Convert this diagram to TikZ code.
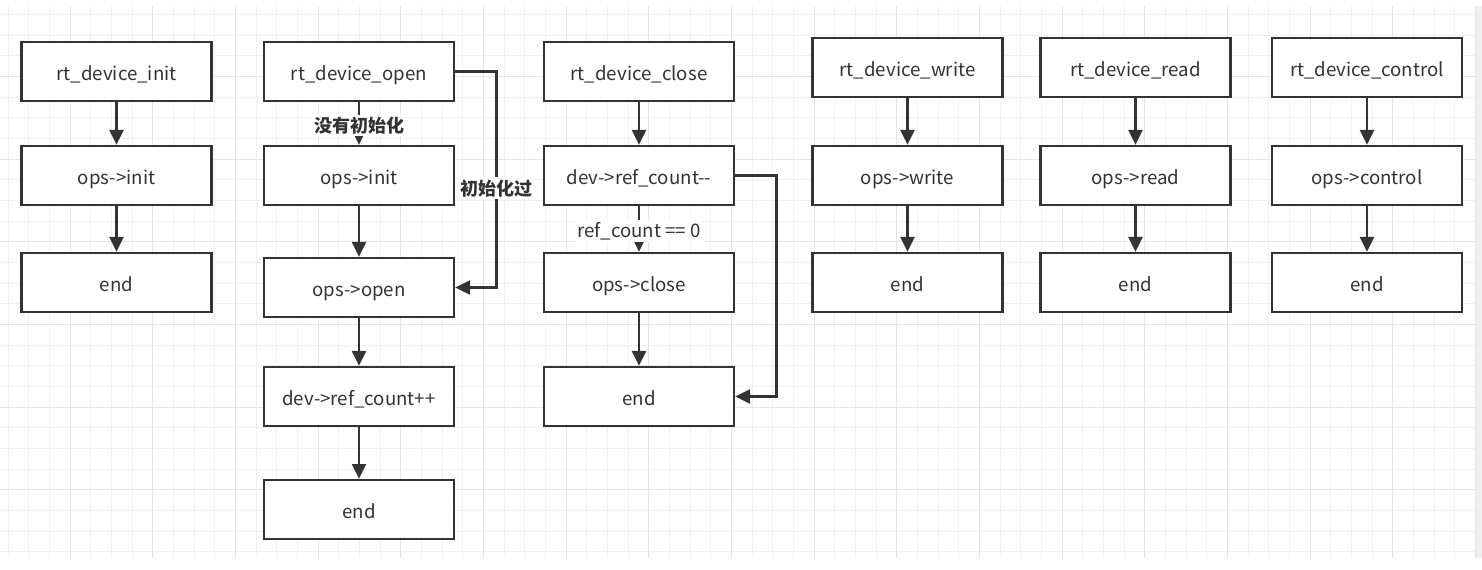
\documentclass[tikz,border=0pt]{standalone}
\usepackage{fontspec}
\setmainfont{Noto Sans CJK SC}
\usepackage{tikz}
\usetikzlibrary{positioning, arrows.meta}
\definecolor{linegray}{HTML}{333333}
\definecolor{gridminor}{HTML}{F1F1F1}
\definecolor{gridmajor}{HTML}{E5E5E5}

\begin{document}
\begin{tikzpicture}[x=0.75pt, y=-0.75pt, ->, >={Triangle[width=10.5pt, length=11pt]}, node distance=80pt]
    \tikzstyle{every node}=[font=\fontsize{14pt}{16pt}\selectfont, text=linegray]
    \tikzstyle{block}=[draw=linegray, line width=2pt, fill=white, minimum width=142.5pt, minimum height=44.25pt, inner sep=0pt, text height=14pt, text depth=0.5pt]
    \tikzstyle{flow}=[draw=linegray, line width=1.9pt]
    \tikzstyle{cond}=[fill=white, inner sep=1.5pt]

    \useasboundingbox (0,0) rectangle (1482,570);

    % background grid
    \begin{scope}[-]
        \foreach \k in {0,...,71}
            \draw[gridminor, line width=0.75pt] ({8+20.667*\k},6) -- ({8+20.667*\k},558);
        \foreach \k in {0,...,26}
            \draw[gridminor, line width=0.75pt] (0,{14.6+20.667*\k}) -- (1476,{14.6+20.667*\k});
        \foreach \k in {0,...,17}
            \draw[gridmajor, line width=0.75pt] ({70+82.667*\k},6) -- ({70+82.667*\k},558);
        \foreach \k in {0,...,5}
            \draw[gridmajor, line width=0.75pt] (0,{76.6+82.667*\k}) -- (1476,{76.6+82.667*\k});
        \fill[gray!12] (1476,6) rectangle (1482,558);
    \end{scope}

    \node[block] (init) at (116.5,71.5) {rt\_device\_init};
    \node[block, below of=init, node distance=78pt] (initops) {ops->init};
    \node[block, below of=initops, node distance=80.25pt] (initend) {end};

    \node[block] (open) at (359,71.5) {rt\_device\_open};
    \node[block, below of=open, node distance=78pt] (openinit) {ops->init};
    \node[block, below of=openinit, node distance=84pt] (openops) {ops->open};
    \node[block, below of=openops, node distance=81.75pt] (openref) {dev->ref\_count++};
    \node[block, below of=openref, node distance=84.75pt] (openend) {end};

    \node[block] (close) at (639,71.5) {rt\_device\_close};
    \node[block, below of=close, node distance=78pt] (closeref) {dev->ref\_count{-}{-}};
    \node[block, below of=closeref, node distance=80.25pt] (closeops) {ops->close};
    \node[block, below of=closeops, node distance=85.5pt] (closeend) {end};

    \node[block] (write) at (907.5,67.5) {rt\_device\_write};
    \node[block, below of=write, node distance=81pt] (writeops) {ops->write};
    \node[block, below of=writeops, node distance=80.25pt] (writeend) {end};

    \node[block] (read) at (1135.5,67.5) {rt\_device\_read};
    \node[block, below of=read, node distance=81pt] (readops) {ops->read};
    \node[block, below of=readops, node distance=80.25pt] (readend) {end};

    \node[block] (control) at (1367,67.5) {rt\_device\_control};
    \node[block, below of=control, node distance=81pt] (controlops) {ops->control};
    \node[block, below of=controlops, node distance=80.25pt] (controlend) {end};

    \draw[flow] (init) -- (initops);
    \draw[flow] (initops) -- (initend);

    \draw[flow] (open) -- node[cond, pos=0.55, font=\fontsize{13.5pt}{16pt}\selectfont\bfseries] {没有初始化} (openinit);
    \draw[flow] (open.east) -- ++(41,0) |- node[cond, pos=0.27, font=\fontsize{13.5pt}{16pt}\selectfont\bfseries] {初始化过} (openops.east);
    \draw[flow] (openinit) -- (openops);
    \draw[flow] (openops) -- (openref);
    \draw[flow] (openref) -- (openend);

    \draw[flow] (close) -- (closeref);
    \draw[flow] (closeref) -- node[cond, pos=0.55] {ref\_count == 0} (closeops);
    \draw[flow] (closeref.east) -- ++(41,0) |- (closeend.east);
    \draw[flow] (closeops) -- (closeend);

    \draw[flow] (write) -- (writeops);
    \draw[flow] (writeops) -- (writeend);
    \draw[flow] (read) -- (readops);
    \draw[flow] (readops) -- (readend);
    \draw[flow] (control) -- (controlops);
    \draw[flow] (controlops) -- (controlend);
\end{tikzpicture}
\end{document}
